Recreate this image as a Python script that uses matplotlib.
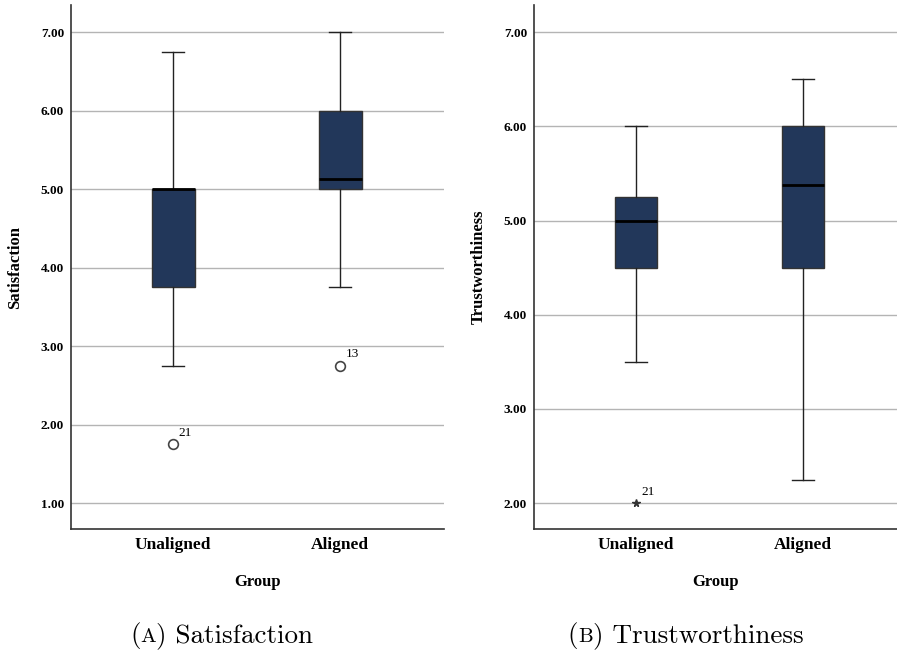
import matplotlib
matplotlib.use("Agg")
import matplotlib.pyplot as plt

groups = ["Unaligned", "Aligned"]

# satisfaction
sat_low = [2.75, 3.75]
sat_q1 = [3.75, 5.0]
sat_med = [5.0, 5.125]
sat_q3 = [5.0, 6.0]
sat_high = [6.75, 7.0]
sat_out = [[1.75], [2.75]]
sat_out_ids = [["21"], ["13"]]

# trustworthiness
tr_low = [3.5, 2.25]
tr_q1 = [4.5, 4.5]
tr_med = [5.0, 5.375]
tr_q3 = [5.25, 6.0]
tr_high = [6.0, 6.5]
tr_out = [[2.0], []]
tr_out_ids = [["21"], []]

BOX = "#22375a"
SERIF = "Liberation Serif"
CAPFONT = ["cmr10", "DejaVu Serif"]


def draw(ax, low, q1, med, q3, high, outs, ids, marker, ylabel, ylim, yticks, xlim):
    stats = []
    for i in range(len(groups)):
        stats.append(dict(whislo=low[i], q1=q1[i], med=med[i], q3=q3[i],
                          whishi=high[i], fliers=[], label=groups[i]))
    pos = list(range(len(groups)))
    ax.bxp(stats, positions=pos, widths=0.257, patch_artist=True,
           showfliers=False,
           boxprops=dict(facecolor=BOX, edgecolor="#333333", linewidth=1.0),
           medianprops=dict(color="black", linewidth=2.0),
           whiskerprops=dict(color="#222222", linewidth=1.0),
           capprops=dict(color="#222222", linewidth=1.0),
           capwidths=0.13, zorder=3)
    for i in range(len(groups)):
        for v, lab in zip(outs[i], ids[i]):
            if marker == "o":
                ax.plot(pos[i], v, "o", mfc="white", mec="#444444", ms=7,
                        mew=1.2, zorder=4)
            else:
                ax.plot(pos[i], v, "*", color="#333333", ms=5.5, zorder=4)
            ax.annotate(lab, (pos[i], v), xytext=(4, 6),
                        textcoords="offset points", fontsize=9.5,
                        family=SERIF)
    ax.set_ylim(*ylim)
    ax.set_xlim(*xlim)
    ax.set_yticks(yticks)
    ax.set_yticklabels([f"{t:.2f}" for t in yticks], family=SERIF,
                       fontweight="bold", fontsize=9.5)
    ax.set_xticks(pos)
    ax.set_xticklabels(groups, family=SERIF, fontweight="bold", fontsize=12.5)
    ax.tick_params(axis="y", length=0, pad=5)
    ax.tick_params(axis="x", length=0, pad=6)
    ax.yaxis.grid(True, color="#b4b4b4", linewidth=1.0, zorder=0)
    ax.set_axisbelow(True)
    for s in ["top", "right"]:
        ax.spines[s].set_visible(False)
    for s in ["left", "bottom"]:
        ax.spines[s].set_color("#333333")
        ax.spines[s].set_linewidth(1.2)
    ax.set_xlabel("Group", family=SERIF, fontweight="bold", fontsize=12,
                  labelpad=15)
    ax.set_ylabel(ylabel, family=SERIF, fontweight="bold", fontsize=12,
                  labelpad=12.5)


fig = plt.figure(figsize=(8.97, 6.5), dpi=100)
ax1 = fig.add_axes([0.0792, 0.186, 0.416, 0.806])
ax2 = fig.add_axes([0.5953, 0.186, 0.4047, 0.806])

draw(ax1, sat_low, sat_q1, sat_med, sat_q3, sat_high, sat_out, sat_out_ids,
     "o", "Satisfaction", (0.669, 7.344),
     [1.0, 2.0, 3.0, 4.0, 5.0, 6.0, 7.0], (-0.611, 1.623))
draw(ax2, tr_low, tr_q1, tr_med, tr_q3, tr_high, tr_out, tr_out_ids,
     "*", "Trustworthiness", (1.724, 7.287),
     [2.0, 3.0, 4.0, 5.0, 6.0, 7.0], (-0.611, 1.563))

# captions with a small-caps letter
captions = [(0.247, "A", "Satisfaction"), (0.764, "B", "Trustworthiness")]
base_y = 0.0125
for xc, letter, word in captions:
    pieces = [("(", 19.5), (letter, 15), (") " + word, 19.5)]
    fig.canvas.draw()
    widths = []
    for piece, size in pieces:
        tmp = fig.text(0, 0, piece, fontsize=size, family=CAPFONT)
        fig.canvas.draw()
        widths.append(tmp.get_window_extent().width)
        tmp.remove()
    x = xc * fig.bbox.width - sum(widths) / 2
    for (piece, size), w in zip(pieces, widths):
        fig.text(x / fig.bbox.width, base_y, piece, fontsize=size,
                 family=CAPFONT, va="baseline", ha="left")
        x += w

fig.savefig("out.png", dpi=100)
